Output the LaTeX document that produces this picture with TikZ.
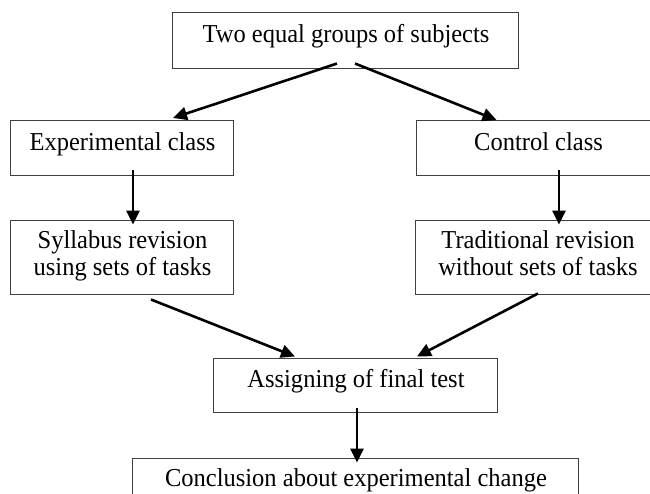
\documentclass[tikz,border=0pt]{standalone}
\usepackage{fontspec}
\setmainfont{Liberation Serif}[FakeStretch=0.95]
\usetikzlibrary{arrows.meta,calc}

\begin{document}
\begin{tikzpicture}[x=0.5pt, y=-0.5pt,
  box/.style={draw=black!75, line width=0.5pt, rectangle, inner sep=0pt,
    align=center, font=\fontsize{12.9}{13.6}\selectfont},
  single/.style={text height=7pt, text depth=4.5pt},
  twoline/.style={text depth=4pt},
  arr/.style={line width=1.3pt, -{Triangle[length=7pt, width=6.5pt]}}]
\useasboundingbox (0,0) rectangle (650,494);
% boxes
\node[box, single, minimum width=173pt, minimum height=28pt] (grp) at (346,40){Two equal groups of subjects};
\node[box, single, minimum width=111.5pt, minimum height=27.5pt] (exp) at (122.5,148){Experimental class};
\node[box, single, minimum width=121.5pt, minimum height=27.5pt] (ctrl) at (538.5,148){Control class};
\node[box, twoline, minimum width=111.5pt, minimum height=37pt] (syl) at (122.5,257){Syllabus revision\\using sets of tasks};
\node[box, twoline, minimum width=122pt, minimum height=37pt] (trad) at (538,257){Traditional revision\\without sets of tasks};
\node[box, single, minimum width=142pt, minimum height=27pt] (test) at (356,385){Assigning of final test};
\node[box, single, minimum width=223pt, minimum height=26pt] (concl) at (356,484){Conclusion about experimental change};
% arrows
\draw[arr] ($(grp.south)+(-9,-5)$) -- ($(exp.north)+(50.5,-2)$);
\draw[arr] ($(grp.south)+(9,-5)$) -- ($(ctrl.north)+(-42,0)$);
\draw[arr] ($(exp.south)+(10.5,-6)$) -- ($(syl.north)+(10.5,5)$);
\draw[arr] ($(ctrl.south)+(20.5,-6)$) -- ($(trad.north)+(21,5)$);
\draw[arr] ($(syl.south)+(28.5,5)$) -- ($(test.north)+(-61,-1)$);
\draw[arr] ($(trad.south)+(0,-1)$) -- ($(test.north)+(61,-1)$);
\draw[arr] ($(test.south)+(1,-5)$) -- ($(concl.north)+(1,5)$);
\end{tikzpicture}
\end{document}
